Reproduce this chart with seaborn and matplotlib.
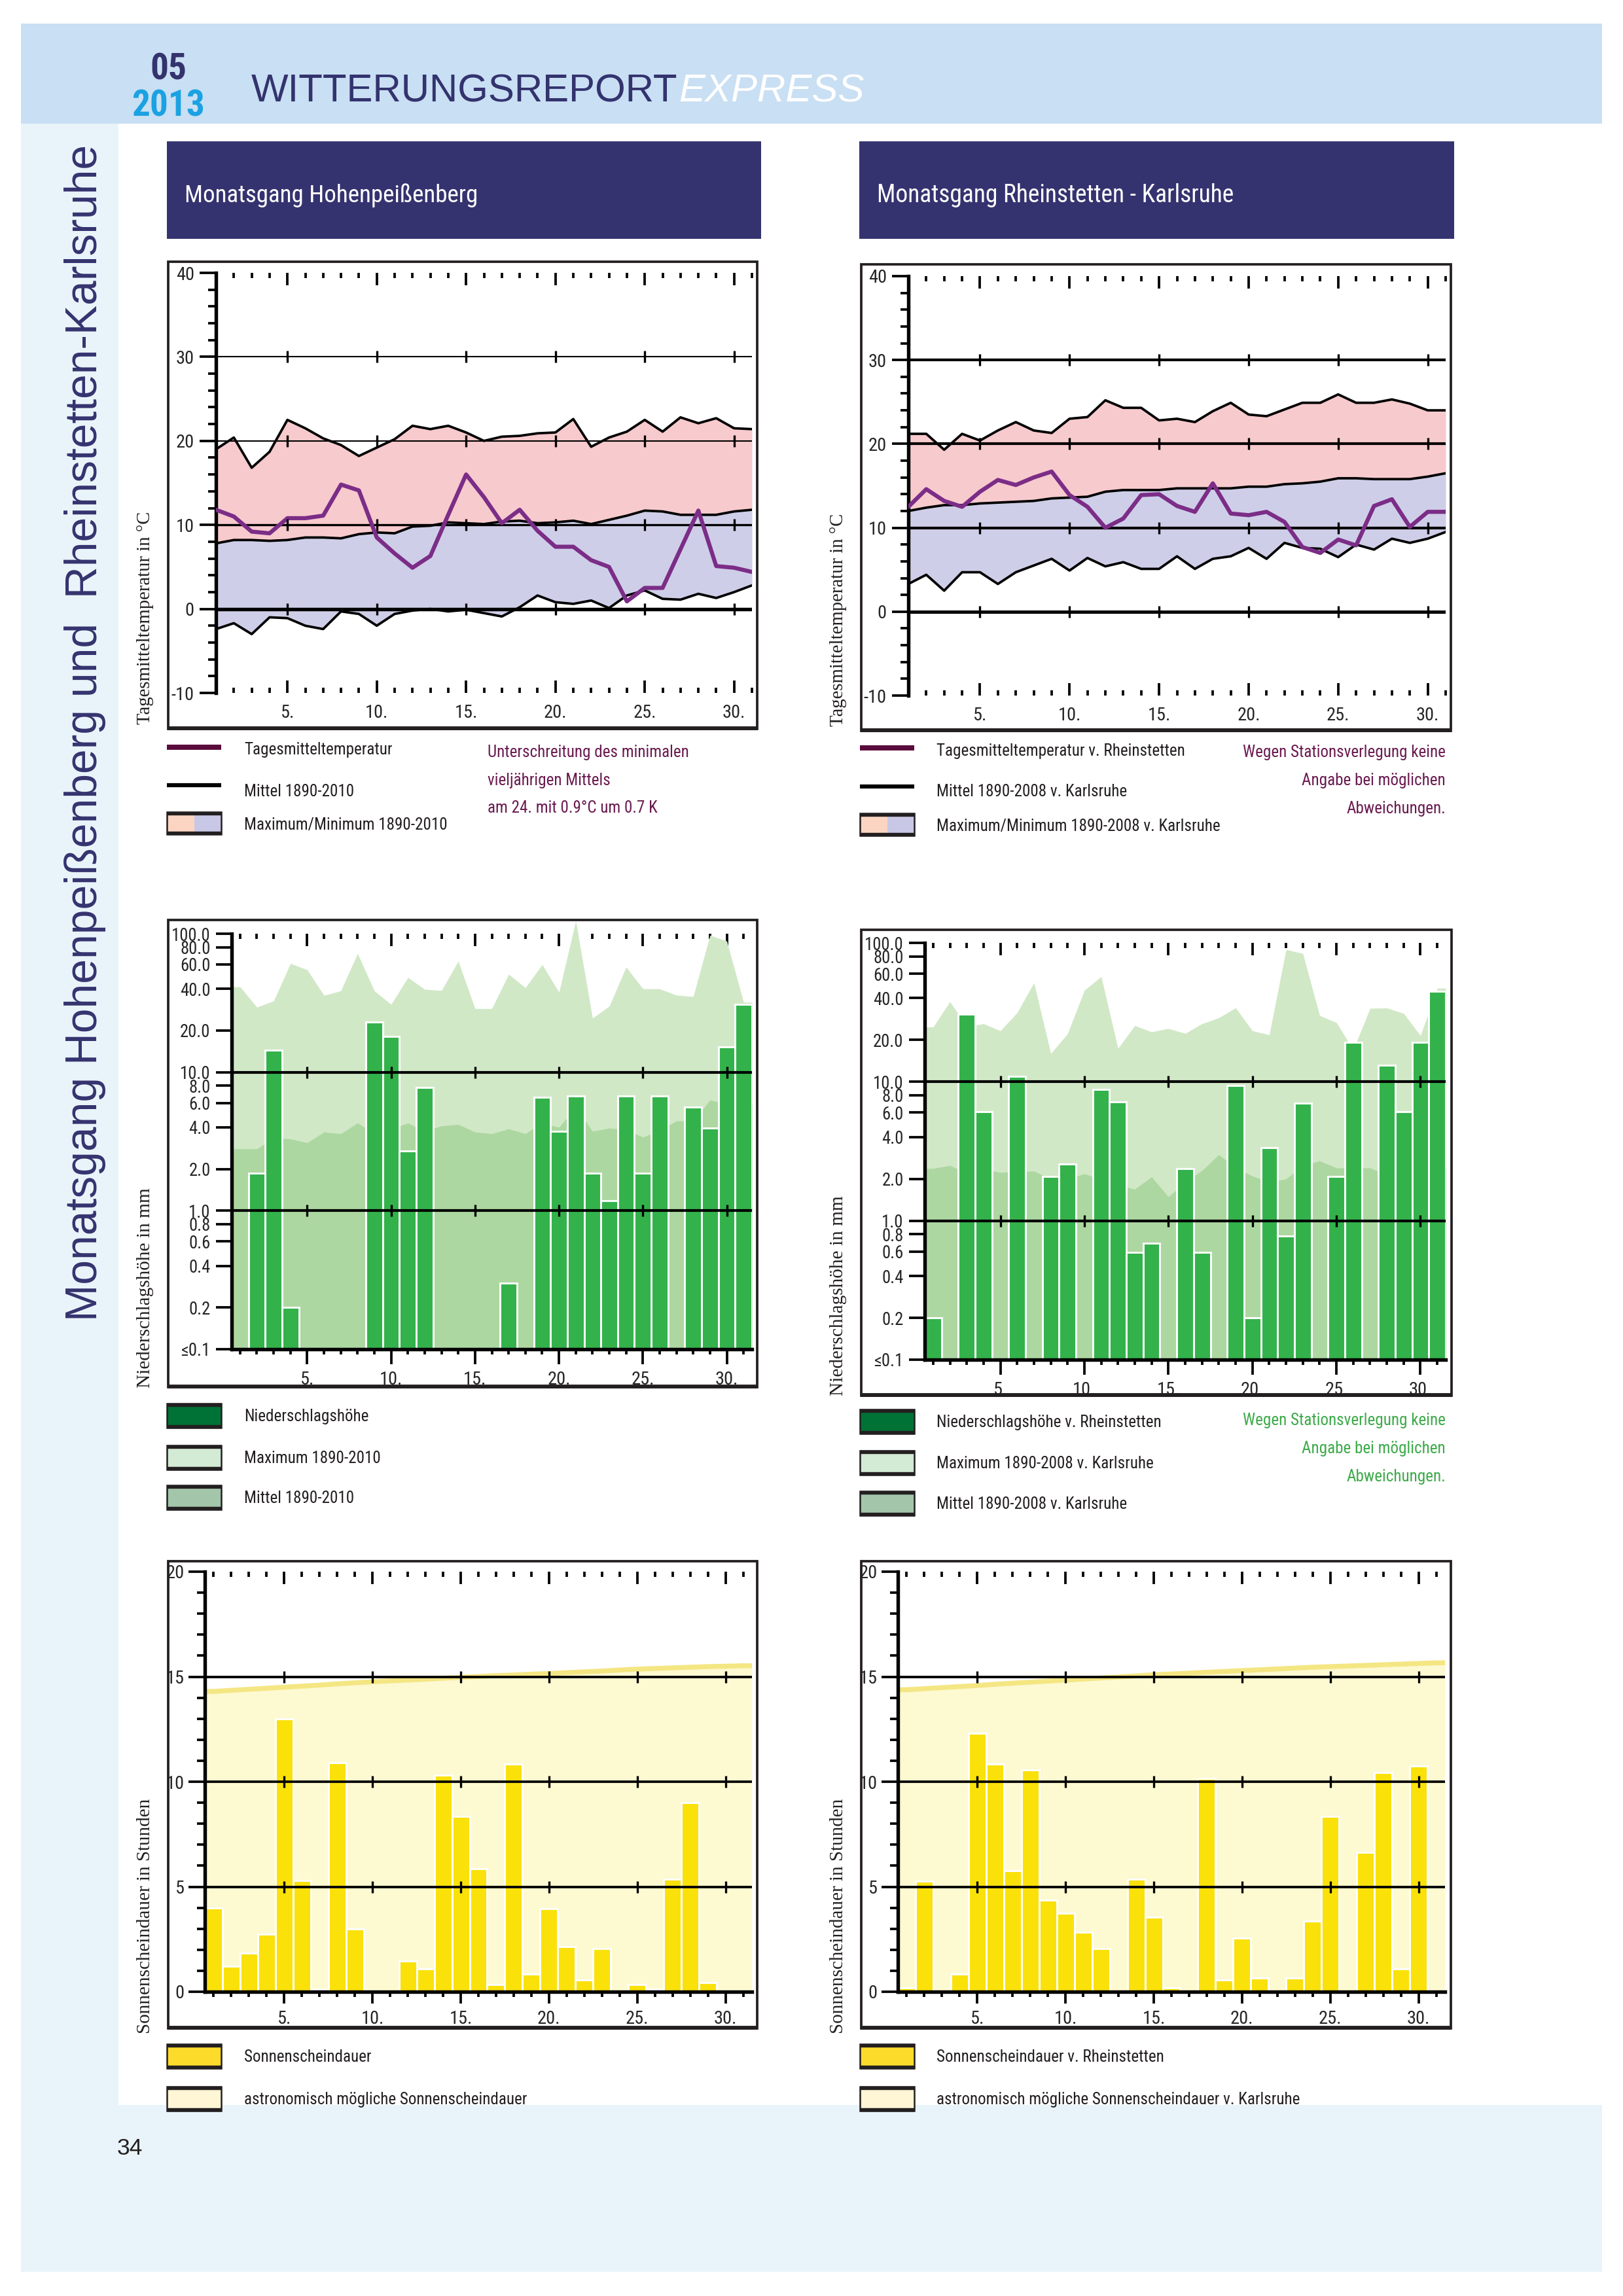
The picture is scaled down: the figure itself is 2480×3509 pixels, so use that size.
import matplotlib
matplotlib.use("Agg")
import matplotlib.pyplot as plt
import seaborn as sns
import numpy as np
import pandas as pd
from matplotlib import font_manager
from matplotlib.patches import Rectangle
from matplotlib.lines import Line2D
from matplotlib.ticker import FixedLocator, NullLocator, FixedFormatter, NullFormatter

W, H, DPI = 2480, 3509, 300

# ---------------------------------------------------------------- data
days = list(range(1, 32))
major_days = [5, 10, 15, 20, 25, 30]
day_labels = ["5.", "10.", "15.", "20.", "25.", "30."]

# Hohenpeissenberg temperature (degC)
hp_temp = [11.8, 11.0, 9.2, 9.0, 10.8, 10.8, 11.1, 14.8, 14.1, 8.5, 6.6, 4.9, 6.3, 11.2, 16.0, 13.3,
           10.2, 11.8, 9.3, 7.4, 7.4, 5.8, 5.0, 0.9, 2.5, 2.5, 7.1, 11.7, 5.1, 4.9, 4.4]
hp_tmax = [19.0, 20.4, 16.8, 18.7, 22.5, 21.5, 20.3, 19.5, 18.2, 19.2, 20.2, 21.8, 21.4, 21.8, 21.0, 20.0,
           20.5, 20.6, 20.9, 21.0, 22.6, 19.3, 20.4, 21.1, 22.5, 21.1, 22.8, 22.1, 22.7, 21.5, 21.4]
hp_tmean = [7.8, 8.2, 8.2, 8.1, 8.2, 8.5, 8.5, 8.4, 8.9, 9.1, 9.0, 9.8, 9.9, 10.3, 10.2, 10.1,
            10.4, 10.5, 10.2, 10.3, 10.5, 10.1, 10.6, 11.1, 11.7, 11.6, 11.2, 11.2, 11.2, 11.6, 11.8]
hp_tmin = [-2.4, -1.7, -3.0, -1.0, -1.1, -2.0, -2.4, -0.3, -0.6, -2.0, -0.6, -0.2, 0.0, -0.3, -0.1, -0.5,
           -0.9, 0.2, 1.6, 0.8, 0.6, 1.0, 0.1, 1.6, 2.2, 1.2, 1.1, 1.8, 1.3, 2.0, 2.8]

# Rheinstetten / Karlsruhe temperature (degC)
rh_temp = [12.5, 14.6, 13.2, 12.5, 14.3, 15.7, 15.1, 16.0, 16.7, 13.9, 12.5, 10.0, 11.1, 13.9, 14.0, 12.6,
           11.9, 15.3, 11.7, 11.5, 11.9, 10.7, 7.7, 7.0, 8.6, 7.9, 12.6, 13.4, 10.1, 11.9, 11.9]
rh_tmax = [21.2, 21.2, 19.3, 21.2, 20.4, 21.6, 22.6, 21.6, 21.3, 23.0, 23.2, 25.2, 24.3, 24.3, 22.8, 23.0,
           22.6, 23.9, 24.9, 23.5, 23.3, 24.1, 24.9, 24.9, 25.9, 24.9, 24.9, 25.3, 24.8, 24.0, 24.0]
rh_tmean = [12.0, 12.4, 12.7, 12.7, 12.9, 13.0, 13.1, 13.2, 13.5, 13.6, 13.7, 14.3, 14.5, 14.5, 14.5, 14.7,
            14.7, 14.7, 14.7, 14.9, 14.9, 15.2, 15.3, 15.5, 15.9, 15.9, 15.8, 15.8, 15.8, 16.1, 16.5]
rh_tmin = [3.3, 4.4, 2.5, 4.7, 4.7, 3.3, 4.7, 5.5, 6.3, 4.9, 6.4, 5.4, 5.9, 5.1, 5.1, 6.6,
           5.1, 6.3, 6.6, 7.6, 6.3, 8.2, 7.6, 7.5, 6.5, 8.0, 7.4, 8.7, 8.2, 8.7, 9.5]

# precipitation (mm)
hp_prec = [0, 1.87, 14.5, 0.2, 0, 0, 0, 0, 23.1, 18.1, 2.7, 7.8, 0, 0, 0, 0,
           0.3, 0, 6.6, 3.75, 6.7, 1.87, 1.18, 6.7, 1.87, 6.7, 0, 5.6, 3.95, 15.3, 31.0]
hp_pmax = [41.4, 29.5, 32.7, 61.0, 54.9, 35.9, 38.7, 72.0, 38.7, 30.9, 48.3, 39.7, 38.9, 63.4, 28.8, 28.8,
           51.0, 40.8, 59.9, 37.8, 124.0, 24.6, 30.0, 57.5, 40.1, 40.0, 36.0, 35.2, 97.5, 88.5, 32.0]
hp_pmean = [2.8, 2.8, 3.35, 3.3, 3.1, 3.7, 3.6, 4.3, 3.6, 3.9, 4.3, 3.75, 4.1, 4.2, 3.7, 3.6,
            3.9, 3.6, 4.3, 4.0, 5.6, 3.75, 3.95, 3.85, 3.4, 3.8, 4.45, 4.45, 6.3, 5.9, 6.0]

rh_prec = [0.2, 0, 30.8, 6.1, 0, 10.9, 0, 2.09, 2.57, 0, 8.8, 7.2, 0.59, 0.69, 0, 2.38,
           0.59, 0, 9.4, 0.2, 3.36, 0.78, 7.0, 0, 2.09, 19.3, 0, 13.1, 6.1, 19.2, 44.9]
rh_pmax = [24.8, 37.8, 25.0, 26.2, 23.3, 31.5, 51.7, 16.0, 22.2, 45.6, 57.2, 17.4, 25.4, 22.9, 24.2, 22.3,
           26.2, 28.9, 34.1, 23.3, 21.8, 89.5, 84.0, 30.0, 26.7, 17.0, 33.8, 34.0, 31.1, 21.5, 47.2]
rh_pmean = [2.38, 2.5, 2.2, 2.36, 2.23, 2.25, 2.28, 2.0, 2.0, 2.18, 1.98, 1.8, 1.69, 2.07, 1.49, 1.9,
            2.3, 2.99, 2.4, 2.1, 1.9, 2.0, 2.5, 2.7, 2.4, 2.4, 2.4, 2.15, 2.2, 2.3, 2.4]

# sunshine duration (h)
hp_sun = [4.0, 1.2, 1.85, 2.75, 13.0, 5.3, 0.13, 10.9, 3.0, 0, 0, 1.45, 1.1, 10.3, 8.35, 5.85,
          0.35, 10.85, 0.85, 3.95, 2.15, 0.55, 2.05, 0, 0.35, 0.13, 5.35, 9.0, 0.45, 0, 0]
hp_astro = [14.30, 14.35, 14.40, 14.45, 14.50, 14.55, 14.60, 14.66, 14.71, 14.76, 14.80, 14.84, 14.88,
            14.93, 14.97, 15.01, 15.05, 15.08, 15.12, 15.15, 15.19, 15.23, 15.27, 15.32, 15.36, 15.39,
            15.42, 15.45, 15.48, 15.50, 15.52]
rh_sun = [0.2, 5.25, 0, 0.85, 12.3, 10.85, 5.75, 10.55, 4.35, 3.75, 2.85, 2.05, 0, 5.35, 3.55, 0.2,
          0, 10.15, 0.55, 2.55, 0.65, 0, 0.65, 3.35, 8.35, 0, 6.65, 10.45, 1.1, 10.75, 0]
rh_astro = [14.38, 14.43, 14.48, 14.53, 14.58, 14.64, 14.69, 14.74, 14.79, 14.84, 14.89, 14.94, 14.99,
            15.04, 15.09, 15.13, 15.17, 15.21, 15.25, 15.29, 15.33, 15.37, 15.41, 15.45, 15.48, 15.51,
            15.54, 15.57, 15.60, 15.63, 15.66]

temp_ticks = [-10, 0, 10, 20, 30, 40]
temp_labels = ["-10", "0", "10", "20", "30", "40"]
prec_ticks = [0.1, 0.2, 0.4, 0.6, 0.8, 1, 2, 4, 6, 8, 10, 20, 40, 60, 80, 100]
prec_labels = ["≤0.1", "0.2", "0.4", "0.6", "0.8", "1.0", "2.0", "4.0", "6.0", "8.0",
               "10.0", "20.0", "40.0", "60.0", "80.0", "100.0"]
sun_ticks = [0, 5, 10, 15, 20]
sun_labels = ["0", "5", "10", "15", "20"]

# ---------------------------------------------------------------- style
sns.set_theme(style="white")
available = {f.name for f in font_manager.fontManager.ttflist}


def pick(cands):
    for c in cands:
        if c in available:
            return c
    return "DejaVu Sans"


NARROW = pick(["Liberation Sans Narrow", "Roboto Condensed", "Open Sans Condensed", "Liberation Sans"])
SANS = pick(["Liberation Sans", "Arial", "DejaVu Sans"])
SERIF = pick(["Liberation Serif", "DejaVu Serif"])
plt.rcParams["font.family"] = [NARROW, "DejaVu Sans"]
plt.rcParams["axes.unicode_minus"] = False

NAVY = "#35336F"
HEADER_BG = "#C9DFF3"
PAGE_BG = "#E9F4FA"
PINK = "#F7CACD"
LAV = "#CFCEE8"
PURPLE = "#7B2D87"
GREEN_BAR = "#33B24B"
GREEN_MAX = "#D1E8C7"
GREEN_MEAN = "#ADD7A1"
SUN_BAR = "#FAE10A"
SUN_FILL = "#FDF9D1"
SUN_LINE = "#F4E682"
TXT = "#231F20"
TICK_FS = 6.8

fig = plt.figure(figsize=(W / DPI, H / DPI), dpi=DPI)
fig.patch.set_facecolor("white")
renderer = fig.canvas.get_renderer()


def fy(y):
    return 1 - y / H


def frect(x0, y0, x1, y1):
    return [x0 / W, 1 - y1 / H, (x1 - x0) / W, (y1 - y0) / H]


def add_rect(x0, y0, x1, y1, z=-5, **kw):
    r = Rectangle((x0 / W, 1 - y1 / H), (x1 - x0) / W, (y1 - y0) / H,
                  transform=fig.transFigure, zorder=z, **kw)
    fig.add_artist(r)
    return r


def add_line(x0, x1, y, color, lw, z=4):
    fig.add_artist(Line2D([x0 / W, x1 / W], [fy(y), fy(y)], color=color, lw=lw,
                          transform=fig.transFigure, zorder=z, solid_capstyle="butt"))


def ftext(x, y, s, **kw):
    return fig.text(x / W, fy(y), s, **kw)


def fit_width(t, target):
    bb = t.get_window_extent(renderer)
    t.set_fontsize(t.get_fontsize() * target / bb.width)


def fit_height(t, target):
    bb = t.get_window_extent(renderer)
    t.set_fontsize(t.get_fontsize() * target / bb.height)


# ---------------------------------------------------------------- page background
add_rect(32, 36, 2448, 3472, z=-10, fc=PAGE_BG, ec="none")
add_rect(32, 36, 2448, 189, z=-9, fc=HEADER_BG, ec="none")
add_rect(181, 189, 2448, 3217, z=-9, fc="white", ec="none")

# header
t05 = ftext(257, 122, "05", ha="center", va="baseline", color="#33336E",
            fontsize=15.5, fontweight="bold", family=[NARROW, "DejaVu Sans"])
t13 = ftext(257, 177, "2013", ha="center", va="baseline", color="#1BA2E2",
            fontsize=15.5, fontweight="bold", family=[NARROW, "DejaVu Sans"])
fit_width(t13, 112)
t05.set_fontsize(t13.get_fontsize())
tw = ftext(384, 155, "WITTERUNGSREPORT", ha="left", va="baseline", color="#33336E",
           fontsize=14, family=[SANS, "DejaVu Sans"])
fit_width(tw, 652)
bbw = tw.get_window_extent(renderer)
fig.text(bbw.x1 / W + 2 / W, fy(155), "EXPRESS", ha="left", va="baseline", color="white",
         fontsize=tw.get_fontsize(), style="italic", family=[SANS, "DejaVu Sans"])

# sidebar
ts = ftext(130, 1120, "Monatsgang Hohenpeißenberg und  Rheinstetten-Karlsruhe", rotation=90,
           ha="center", va="center", color=NAVY, fontsize=16, family=[SANS, "DejaVu Sans"])
fit_height(ts, 1799)

# page number
ftext(179, 3293, "34", ha="left", va="baseline", fontsize=8.5, color=TXT, family=[SANS, "DejaVu Sans"])

# title boxes
for (x0, x1, title, tw_target) in [(255, 1163, "Monatsgang Hohenpeißenberg", 450),
                                   (1313, 2222, "Monatsgang Rheinstetten - Karlsruhe", 547)]:
    add_rect(x0, 216, x1, 365, z=-4, fc=NAVY, ec="none")
    tt = ftext(x0 + 27, 309, title, ha="left", va="baseline", color="white", fontsize=10.5)
    fit_width(tt, tw_target)

# ---------------------------------------------------------------- panel helpers


def base_axes(rect):
    ax = fig.add_axes(frect(*rect))
    ax.set_facecolor("none")
    for s in ["top", "right"]:
        ax.spines[s].set_visible(False)
    ax.spines["left"].set_linewidth(1.3)
    ax.spines["left"].set_color("black")
    ax.spines["bottom"].set_color("black")
    return ax


def grid_marks(ax, levels):
    for g in levels:
        ax.plot(major_days, [g] * len(major_days), ls="none", marker="|", ms=4.2,
                mew=0.8, color="black", zorder=5, clip_on=False)


def temp_panel(rect, daily, tmax, tmean, tmin, grid_lws):
    ax = base_axes(rect)
    ax.spines["bottom"].set_visible(False)
    ax.fill_between(days, tmean, tmax, color=PINK, lw=0, zorder=1)
    ax.fill_between(days, tmin, tmean, color=LAV, lw=0, zorder=1)
    for g, lw in grid_lws:
        ax.axhline(g, color="black", lw=lw, zorder=2)
    grid_marks(ax, [g for g, _ in grid_lws])
    for series in (tmax, tmean, tmin):
        sns.lineplot(x=days, y=series, ax=ax, color="black", lw=0.9, zorder=3)
    sns.lineplot(x=days, y=daily, ax=ax, color=PURPLE, lw=1.5, zorder=4)
    ax.set_xlim(1, 31)
    ax.set_ylim(-10, 40)
    ax.yaxis.set_major_locator(FixedLocator(temp_ticks))
    ax.yaxis.set_major_formatter(FixedFormatter(temp_labels))
    ax.yaxis.set_minor_locator(FixedLocator(list(range(-10, 41, 2))))
    ax.tick_params(axis="y", which="both", left=True, direction="out", width=0.9, color="black")
    ax.tick_params(axis="y", which="major", length=6, pad=2, labelsize=TICK_FS)
    ax.tick_params(axis="y", which="minor", length=3)
    ax.xaxis.set_major_locator(FixedLocator(major_days))
    ax.xaxis.set_major_formatter(FixedFormatter(day_labels))
    ax.xaxis.set_minor_locator(FixedLocator([d for d in days if d % 5 and d > 1]))
    ax.tick_params(axis="x", which="both", direction="in", top=True, bottom=True,
                   width=0.9, color="black", labelsize=TICK_FS, pad=4)
    ax.tick_params(axis="x", which="major", length=4.5)
    ax.tick_params(axis="x", which="minor", length=2.0)
    ax.set_xlabel("")
    ax.set_ylabel("")
    return ax


def top_ticks(ax):
    sec = ax.secondary_xaxis("top")
    sec.xaxis.set_major_locator(FixedLocator(major_days))
    sec.xaxis.set_minor_locator(FixedLocator([d for d in days if d % 5]))
    sec.xaxis.set_major_formatter(NullFormatter())
    sec.tick_params(axis="x", which="both", direction="in", width=0.9, color="black")
    sec.tick_params(axis="x", which="major", length=4.5)
    sec.tick_params(axis="x", which="minor", length=2.0)
    sec.spines["top"].set_visible(False)


def bottom_ticks(ax, major_len):
    ax.xaxis.set_major_locator(FixedLocator(major_days))
    ax.xaxis.set_major_formatter(FixedFormatter(day_labels))
    ax.xaxis.set_minor_locator(FixedLocator([d for d in days if d % 5]))
    ax.tick_params(axis="x", which="both", direction="out", bottom=True, top=False,
                   width=0.9, color="black", labelsize=TICK_FS, pad=2.5)
    ax.tick_params(axis="x", which="major", length=major_len)
    ax.tick_params(axis="x", which="minor", length=2.0)


def prec_panel(rect, bars, pmax, pmean):
    ax = base_axes(rect)
    ax.spines["bottom"].set_linewidth(1.3)
    xe = [0.5] + days + [31.5]
    ax.fill_between(xe, 0.1, [pmax[0]] + pmax + [pmax[-1]], color=GREEN_MAX, lw=0,
                    zorder=1, clip_on=False)
    ax.fill_between(xe, 0.1, [pmean[0]] + pmean + [pmean[-1]], color=GREEN_MEAN, lw=0, zorder=1.1)
    sns.barplot(x=days, y=bars, native_scale=True, width=1, color=GREEN_BAR, saturation=1,
                edgecolor="white", linewidth=0.7, errorbar=None, ax=ax, zorder=2)
    ax.set_yscale("log")
    ax.set_ylim(0.1, 100)
    ax.set_xlim(0.5, 31.5)
    for g in (1, 10):
        ax.axhline(g, color="black", lw=1.0, zorder=3)
    grid_marks(ax, [1, 10])
    ax.yaxis.set_major_locator(FixedLocator(prec_ticks))
    ax.yaxis.set_major_formatter(FixedFormatter(prec_labels))
    ax.yaxis.set_minor_locator(NullLocator())
    ax.tick_params(axis="y", which="major", left=True, direction="out", length=5.8, width=0.9,
                   color="black", pad=2, labelsize=6.4)
    bottom_ticks(ax, 5.5)
    top_ticks(ax)
    ax.set_xlabel("")
    ax.set_ylabel("")
    return ax


def sun_panel(rect, bars, astro):
    ax = base_axes(rect)
    ax.spines["bottom"].set_linewidth(1.3)
    xe = [0.5] + days + [31.5]
    ye = [astro[0]] + astro + [astro[-1]]
    ax.fill_between(xe, 0, ye, color=SUN_FILL, lw=0, zorder=1)
    sns.lineplot(x=xe, y=ye, ax=ax, color=SUN_LINE, lw=1.8, zorder=1.2)
    sns.barplot(x=days, y=bars, native_scale=True, width=1, color=SUN_BAR, saturation=1,
                edgecolor="white", linewidth=0.7, errorbar=None, ax=ax, zorder=2)
    ax.set_xlim(0.5, 31.5)
    ax.set_ylim(0, 20)
    for g in (5, 10, 15):
        ax.axhline(g, color="black", lw=0.9, zorder=3)
    grid_marks(ax, [5, 10, 15])
    ax.yaxis.set_major_locator(FixedLocator(sun_ticks))
    ax.yaxis.set_major_formatter(FixedFormatter(sun_labels))
    ax.yaxis.set_minor_locator(FixedLocator(list(range(0, 21))))
    ax.tick_params(axis="y", which="both", left=True, direction="out", width=0.9, color="black")
    ax.tick_params(axis="y", which="major", length=6, pad=1.5, labelsize=TICK_FS)
    ax.tick_params(axis="y", which="minor", length=3)
    bottom_ticks(ax, 4.3)
    top_ticks(ax)
    ax.set_xlabel("")
    ax.set_ylabel("")
    return ax


def frame(x0, y0, x1, y1):
    add_rect(x0, y0, x1, y1, z=6, fill=False, ec=TXT, lw=0.9)
    add_line(x0, x1, y1 - 1, TXT, 1.4, z=6)


def ylabel(x, ybottom, s, target):
    t = ftext(x, ybottom, s, rotation=90, ha="center", va="bottom", fontsize=6.5,
              color=TXT, family=[SERIF, "DejaVu Serif"])
    fit_height(t, target)


# ---------------------------------------------------------------- panels
temp_panel((330, 417, 1149, 1059), hp_temp, hp_tmax, hp_tmean, hp_tmin,
           [(30, 0.5), (20, 0.5), (10, 0.8), (0, 1.3)])
temp_panel((1388, 422, 2209, 1063), rh_temp, rh_tmax, rh_tmean, rh_tmin,
           [(30, 1.0), (20, 1.0), (10, 1.0), (0, 1.2)])
frame(257, 400, 1157, 1114)
frame(1316, 404, 2217, 1117)
ylabel(222, 1107, "Tagesmitteltemperatur in °C", 326)
ylabel(1281, 1110, "Tagesmitteltemperatur in °C", 326)

prec_panel((354, 1427, 1149, 2062), hp_prec, hp_pmax, hp_pmean)
prec_panel((1413, 1441, 2209, 2078), rh_prec, rh_pmax, rh_pmean)
frame(257, 1406, 1157, 2120)
frame(1316, 1421, 2218, 2133)
ylabel(222, 2121, "Niederschlagshöhe in mm", 306)
ylabel(1281, 2133, "Niederschlagshöhe in mm", 306)

sun_panel((313, 2402, 1149, 3044), hp_sun, hp_astro)
sun_panel((1372, 2402, 2208, 3044), rh_sun, rh_astro)
frame(257, 2386, 1157, 3100)
frame(1316, 2386, 2217, 3100)
ylabel(222, 3108, "Sonnenscheindauer in Stunden", 359)
ylabel(1281, 3108, "Sonnenscheindauer in Stunden", 359)

# ---------------------------------------------------------------- legends
probe = ftext(373, 1153, "Tagesmitteltemperatur", ha="left", va="baseline", fontsize=7, color=TXT)
fit_width(probe, 227)
LFS = probe.get_fontsize()


def ltext(x, yb, s, color=TXT, ha="left"):
    return ftext(x, yb, s, ha=ha, va="baseline", fontsize=LFS, color=color)


def swatch(x0, x1, yc, colors, h=37):
    n = len(colors)
    step = (x1 - x0) / n
    for i, c in enumerate(colors):
        add_rect(x0 + i * step, yc - h / 2, x0 + (i + 1) * step, yc + h / 2, z=4, fc=c, ec="none")
    add_rect(x0, yc - h / 2, x1, yc + h / 2, z=4.5, fill=False, ec=TXT, lw=0.6)
    add_line(x0, x1, yc - h / 2 + 2, TXT, 1.3, z=4.6)
    add_line(x0, x1, yc + h / 2 - 2, TXT, 1.3, z=4.6)


# temperature legends
add_line(255, 338, 1142, "#5A0B3C", 1.9)
add_line(255, 338, 1200, "black", 1.5)
swatch(255, 338, 1258, ["#FBD5C1", "#C8C7E6"], h=34)
ltext(373, 1217, "Mittel 1890-2010")
ltext(373, 1268, "Maximum/Minimum 1890-2010")
NOTE_RED = "#6A1B50"
ltext(745, 1157, "Unterschreitung des minimalen", NOTE_RED)
ltext(745, 1200, "vieljährigen Mittels", NOTE_RED)
ltext(745, 1242, "am 24. mit 0.9°C um 0.7 K", NOTE_RED)

add_line(1314, 1397, 1143, "#5A0B3C", 1.9)
add_line(1314, 1397, 1202, "black", 1.5)
swatch(1314, 1397, 1260, ["#FBD5C1", "#C8C7E6"], h=34)
ltext(1431, 1155, "Tagesmitteltemperatur v. Rheinstetten")
ltext(1431, 1217, "Mittel 1890-2008 v. Karlsruhe")
ltext(1431, 1270, "Maximum/Minimum 1890-2008 v. Karlsruhe")
ltext(2209, 1157, "Wegen Stationsverlegung keine", NOTE_RED, ha="right")
ltext(2209, 1200, "Angabe bei möglichen", NOTE_RED, ha="right")
ltext(2209, 1243, "Abweichungen.", NOTE_RED, ha="right")

# precipitation legends
PREC_SW = ["#007236", "#D3EAD4", "#A3C6AA"]
for yc, col, s in zip([2163, 2227, 2288], PREC_SW,
                      ["Niederschlagshöhe", "Maximum 1890-2010", "Mittel 1890-2010"]):
    swatch(255, 338, yc, [col])
    ltext(373, yc + 9, s)
for yc, col, s in zip([2172, 2235, 2297], PREC_SW,
                      ["Niederschlagshöhe v. Rheinstetten", "Maximum 1890-2008 v. Karlsruhe",
                       "Mittel 1890-2008 v. Karlsruhe"]):
    swatch(1314, 1397, yc, [col])
    ltext(1431, yc + 9, s)
NOTE_GREEN = "#3DAA4A"
ltext(2209, 2178, "Wegen Stationsverlegung keine", NOTE_GREEN, ha="right")
ltext(2209, 2221, "Angabe bei möglichen", NOTE_GREEN, ha="right")
ltext(2209, 2264, "Abweichungen.", NOTE_GREEN, ha="right")

# sunshine legends
SUN_SW = ["#FCDB2A", "#FEF6D5"]
for yc, col, s in zip([3142, 3207], SUN_SW, ["Sonnenscheindauer", "astronomisch mögliche Sonnenscheindauer"]):
    swatch(255, 338, yc, [col])
    ltext(373, yc + 9, s)
for yc, col, s in zip([3142, 3207], SUN_SW, ["Sonnenscheindauer v. Rheinstetten",
                                             "astronomisch mögliche Sonnenscheindauer v. Karlsruhe"]):
    swatch(1314, 1397, yc, [col])
    ltext(1431, yc + 9, s)

fig.savefig("out.png", dpi=DPI, facecolor="white")
